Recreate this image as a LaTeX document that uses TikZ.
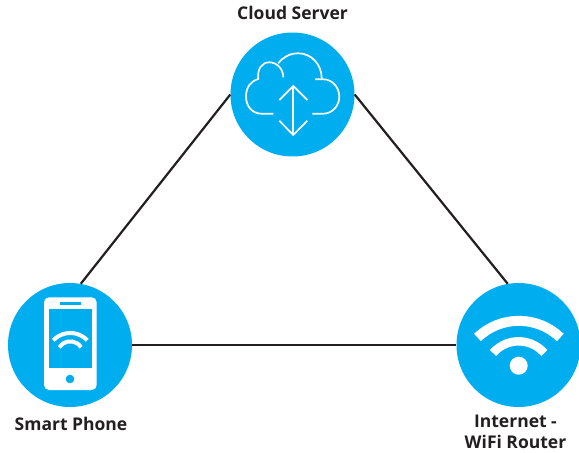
\documentclass[tikz,border=0pt]{standalone}
\usepackage{fontspec}
\setmainfont{Open Sans}
\definecolor{hubblue}{HTML}{00AEEF}
\definecolor{labelink}{HTML}{231F20}
\tikzset{
  hub/.style={circle, fill=hubblue, minimum size=124pt, inner sep=0pt},
  hublabel/.style={font=\fontsize{17.5}{20.5}\selectfont\bfseries, text=labelink, align=center, inner sep=0pt},
  hubline/.style={draw=labelink, line width=2.2pt},
  iconline/.style={draw=white, line width=1.7pt},
  iconarc/.style={draw=white}
}
\begin{document}
\begin{tikzpicture}[x=1pt, y=-1pt]
        \useasboundingbox (0,0) rectangle (579,453);
        \node[hub] (cloud) at (292.5,94.5) {};
        \node[hub] (phone) at (70,345) {};
        \node[hub] (router) at (518.5,345) {};
        \draw[hubline] (cloud.180) -- (phone.80); % Left side
        \draw[hubline] (cloud.0) -- (router.100); % Right side
        \draw[hubline] (phone.0) -- (router.180); % Bottom side
        \node[hublabel] (cloudlabel) at (292.5,13) {Cloud Server};
        \node[hublabel] (phonelabel) at (71,424) {Smart Phone};
        \node[hublabel] (routerlabel) at (515.5,432) {Internet -\\WiFi Router};
        % Cloud
        \draw[iconline] (273.3,113.7) -- (261.7,113.7) .. controls (252,113.7) and (246,106) .. (246,96.7) .. controls (246,87) and (251,81) .. (258.3,79) .. controls (257,69) and (262,62.3) .. (269.3,62.3) .. controls (277,62.3) and (283.3,69) .. (283.3,77.3);
        \draw[iconline] (278.3,63.3) .. controls (283,57) and (290,53.3) .. (298.3,53.3) .. controls (311,53.3) and (321.7,64) .. (321.7,78.3);
        \draw[iconline] (315,79.3) -- (323.3,79.3) .. controls (332,79.3) and (339.3,87) .. (339.3,96.7) .. controls (339.3,106) and (332,113.7) .. (323.3,113.7) -- (312.3,113.7);
        \draw[iconline] (293.3,86) -- (293.3,135); % Shaft
        \draw[iconline] (279.3,100) -- (293.3,86) -- (307.3,100); % Head up
        \draw[iconline] (279.3,120.7) -- (293.3,135) -- (307.3,120.7); % Head down
        % Phone
        \fill[white, rounded corners=5pt] (44,297.3) rectangle (96.7,390); % Body
        \fill[hubblue] (49.3,309) rectangle (91.7,368.3); % Screen
        \fill[hubblue] (60,301.7) rectangle (80.7,305); % Speaker
        \fill[hubblue] (70,379) circle (4.3); % Button
        \draw[iconarc, line width=4pt] (53.3,340.3) arc[start angle=223.4, end angle=316.6, radius=23.4];
        \draw[iconarc, line width=4pt] (59.3,347.3) arc[start angle=212.4, end angle=327.6, radius=12.9];
        % Router
        \draw[iconarc, line width=10pt] (477.5,337.5) arc[start angle=226.1, end angle=313.9, radius=59.7];
        \draw[iconarc, line width=8.5pt] (493,353) arc[start angle=221, end angle=319, radius=34];
        \fill[white] (518.7,365.7) circle (9);
    \end{tikzpicture}
\end{document}
